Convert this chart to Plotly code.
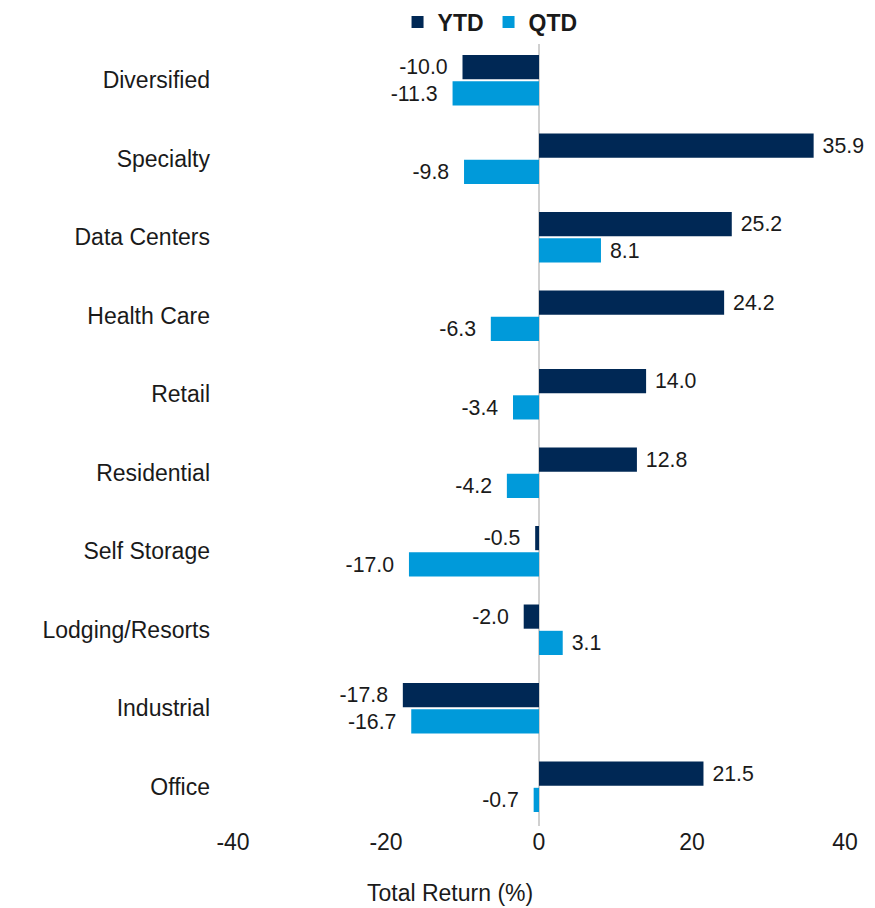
import plotly.graph_objects as go

categories = ["Diversified", "Specialty", "Data Centers", "Health Care", "Retail",
              "Residential", "Self Storage", "Lodging/Resorts", "Industrial", "Office"]
ytd = [-10.0, 35.9, 25.2, 24.2, 14.0, 12.8, -0.5, -2.0, -17.8, 21.5]
qtd = [-11.3, -9.8, 8.1, -6.3, -3.4, -4.2, -17.0, 3.1, -16.7, -0.7]
x_ticks = [-40, -20, 0, 20, 40]

FONT = "Liberation Sans, Arial, sans-serif"
C_YTD = "#002855"
C_QTD = "#009ADA"


def lab(v):
    s = f"{v:.1f}"
    return s + "\u00a0\u00a0" if v < 0 else "\u00a0" + s


fig = go.Figure()
for name, vals, col in [("YTD", ytd, C_YTD), ("QTD", qtd, C_QTD)]:
    fig.add_trace(go.Bar(y=categories, x=vals, name=name, orientation="h",
                         marker=dict(color=col, line=dict(width=0)),
                         text=[lab(v) for v in vals], textposition="outside",
                         textfont=dict(size=22, color="#1a1a1a", family=FONT),
                         cliponaxis=False))

# page body adds an 8px offset; margins compensate so the plot sits at 233..845 x 41..826
fig.update_layout(
    width=867, height=900,
    margin=dict(l=225, r=30, t=33, b=82, autoexpand=False),
    paper_bgcolor="white", plot_bgcolor="white",
    barmode="group", bargap=0.33, bargroupgap=0.08,
    font=dict(family=FONT, size=22, color="#1a1a1a"),
    showlegend=True,
    legend=dict(orientation="h", x=0.42, xanchor="center",
                yref="container", y=1 - 14 / 900, yanchor="middle",
                font=dict(size=23, family=FONT, weight="bold", color="#1a1a1a"),
                itemwidth=30, traceorder="normal"),
    xaxis=dict(range=[-40, 40], tickvals=x_ticks, ticktext=[str(v) for v in x_ticks],
               showgrid=False, zeroline=True, zerolinecolor="#D0D0D0", zerolinewidth=2,
               showline=False, ticks="", tickfont=dict(size=23), automargin=False,
               fixedrange=True),
    yaxis=dict(autorange="reversed", showgrid=False, showline=False, ticks="",
               ticklabelstandoff=22, tickfont=dict(size=23), automargin=False),
    annotations=[dict(text="Total Return (%)", xref="paper", yref="paper",
                      x=(450 - 233) / 612, y=-(893 - 826) / 785,
                      xanchor="center", yanchor="middle",
                      showarrow=False, font=dict(size=23))],
)

fig.write_html("out.html")
